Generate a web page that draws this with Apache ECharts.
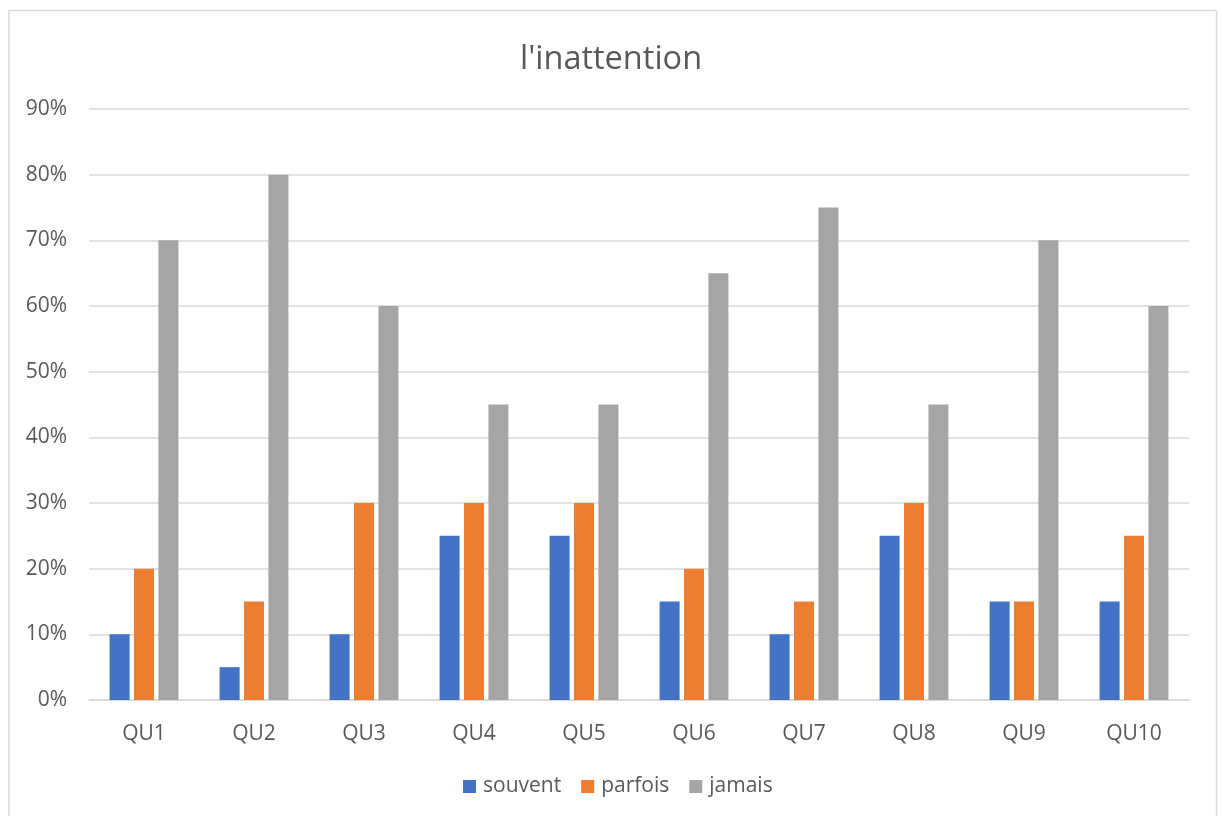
<!DOCTYPE html>
<html>
<head>
<meta charset="utf-8">
<script src="https://cdn.jsdelivr.net/npm/echarts@6/dist/echarts.min.js"></script>
<style>
  html, body { margin: 0; padding: 0; background: #fff; }
  #chart { width: 1222px; height: 816px; }
</style>
</head>
<body>
<div id="chart"></div>
<script>
// Questionnaire categories and answer shares (in percent)
const categories = ['QU1', 'QU2', 'QU3', 'QU4', 'QU5', 'QU6', 'QU7', 'QU8', 'QU9', 'QU10'];
const souvent = [10, 5, 10, 25, 25, 15, 10, 25, 15, 15];
const parfois = [20, 15, 30, 30, 30, 20, 15, 30, 15, 25];
const jamais  = [70, 80, 60, 45, 45, 65, 75, 45, 70, 60];
const seriesNames = ['souvent', 'parfois', 'jamais'];

const FONT = '"Open Sans", "Noto Sans", sans-serif';
const TEXT = '#595959';
const GRID = '#d9d9d9';

const chart = echarts.init(document.getElementById('chart'), null, { renderer: 'canvas' });

function bar(name, data, color) {
  return {
    name, type: 'bar', data,
    barWidth: 20, barGap: '22%',
    itemStyle: { color },
    emphasis: { disabled: true }
  };
}

chart.setOption({
  animation: false,
  color: ['#4472C4', '#ED7D31', '#A5A5A5'],
  graphic: [{
    type: 'rect', silent: true, z: -1,
    shape: { x: 9, y: 10.5, width: 1207.5, height: 820 },
    style: { fill: 'none', stroke: GRID, lineWidth: 1.5 }
  }],
  title: {
    text: "l'inattention",
    left: 'center', top: 38,
    textStyle: { fontFamily: FONT, fontSize: 32.5, fontWeight: 'normal', color: TEXT }
  },
  legend: {
    data: seriesNames,
    bottom: 14, left: 458,
    icon: 'rect', itemWidth: 13, itemHeight: 13, itemGap: 20,
    textStyle: { fontFamily: FONT, fontSize: 21, color: TEXT, padding: [0, 0, 0, 2] }
  },
  grid: { left: 89, right: 33, top: 109, bottom: 116, containLabel: false },
  xAxis: {
    type: 'category', data: categories,
    axisLine: { lineStyle: { color: GRID, width: 1.5 } },
    axisTick: { show: false },
    axisLabel: { fontFamily: FONT, fontSize: 21, color: TEXT, margin: 24 }
  },
  yAxis: {
    type: 'value', min: 0, max: 90, interval: 10,
    axisLine: { show: false },
    axisTick: { show: false },
    splitLine: { lineStyle: { color: GRID, width: 1.5 } },
    axisLabel: { fontFamily: FONT, fontSize: 21, color: TEXT, margin: 22, formatter: '{value}%' }
  },
  series: [
    bar('souvent', souvent, '#4472C4'),
    bar('parfois', parfois, '#ED7D31'),
    bar('jamais', jamais, '#A5A5A5')
  ]
});
</script>
</body>
</html>
